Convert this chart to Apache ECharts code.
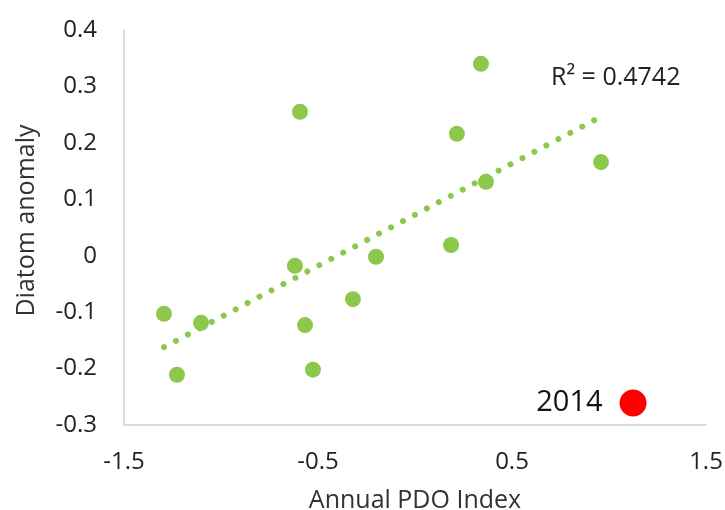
<!DOCTYPE html>
<html>
<head>
<meta charset="utf-8">
<script src="https://cdn.jsdelivr.net/npm/echarts@6/dist/echarts.min.js"></script>
<style>html,body{margin:0;padding:0;background:#fff;}#c{width:725px;height:510px;}</style>
</head>
<body>
<div id="c"></div>
<script>
// PDO index (x) and diatom anomaly (y)
const pdoX = [-1.294, -1.227, -1.103, -0.619, -0.593, -0.567, -0.526, -0.320, -0.201, 0.186, 0.216, 0.340, 0.366, 0.959];
const diatomY = [-0.103, -0.211, -0.119, -0.018, 0.255, -0.123, -0.202, -0.077, -0.002, 0.019, 0.216, 0.340, 0.131, 0.166];
const point2014X = [1.124];
const point2014Y = [-0.261];
const year2014Label = '2014';
const trendX = [-1.294, 0.940];
const trendY = [-0.162, 0.243];
const r2Text = 'R² = 0.4742';
const xTicks = [-1.5, -0.5, 0.5, 1.5];
const yTicks = [-0.3, -0.2, -0.1, 0, 0.1, 0.2, 0.3, 0.4];

const FONT = '"Open Sans", "Noto Sans", sans-serif';
const green = '#8cc84b';

const chart = echarts.init(document.getElementById('c'), null, {renderer: 'canvas'});
chart.setOption({
  backgroundColor: '#fff',
  animation: false,
  grid: {left: 124, right: 19, top: 30, bottom: 85, containLabel: false, outerBoundsMode: 'none'},
  xAxis: {
    type: 'value', min: xTicks[0], max: xTicks[xTicks.length - 1], interval: 1,
    name: 'Annual PDO Index', nameLocation: 'middle', nameGap: 63,
    nameTextStyle: {fontFamily: FONT, fontSize: 25, color: '#333'},
    axisLine: {show: true, onZero: false, lineStyle: {color: '#d0d0d0', width: 1.5}},
    axisTick: {show: false}, splitLine: {show: false},
    axisLabel: {fontFamily: FONT, fontSize: 24, color: '#222', margin: 25,
      formatter: v => xTicks.includes(+v.toFixed(2)) ? String(v) : ''}
  },
  yAxis: {
    type: 'value', min: yTicks[0], max: yTicks[yTicks.length - 1], interval: 0.1,
    name: 'Diatom anomaly', nameLocation: 'middle', nameGap: 85, nameRotate: 90,
    nameTextStyle: {fontFamily: FONT, fontSize: 25, color: '#333', padding: [0, 0, 0, 14]},
    axisLine: {show: true, onZero: false, lineStyle: {color: '#d0d0d0', width: 1.5}},
    axisTick: {show: false}, splitLine: {show: false},
    axisLabel: {fontFamily: FONT, fontSize: 24, color: '#222', margin: 27,
      formatter: v => { const r = Math.round(v * 10) / 10; return r === 0 ? '0' : r.toFixed(1); }}
  },
  series: [
    {
      type: 'line', data: trendX.map((x, i) => [x, trendY[i]]),
      showSymbol: false, symbol: 'none', z: 1,
      lineStyle: {color: green, width: 6, type: [0.01, 13.5], cap: 'round'}
    },
    {
      type: 'scatter', data: pdoX.map((x, i) => [x, diatomY[i]]),
      symbolSize: 16, z: 2, itemStyle: {color: green, opacity: 1}
    },
    {
      type: 'scatter', data: point2014X.map((x, i) => [x, point2014Y[i]]),
      symbolSize: 27, z: 3, itemStyle: {color: '#ff0000', opacity: 1},
      label: {show: true, position: 'left', distance: 17, formatter: year2014Label,
        fontFamily: FONT, fontSize: 29, color: '#111'}
    }
  ],
  graphic: [{
    type: 'text', left: 551, top: 65,
    style: {text: r2Text, fontFamily: FONT, fontSize: 25, fill: '#222'}
  }]
});
</script>
</body>
</html>
